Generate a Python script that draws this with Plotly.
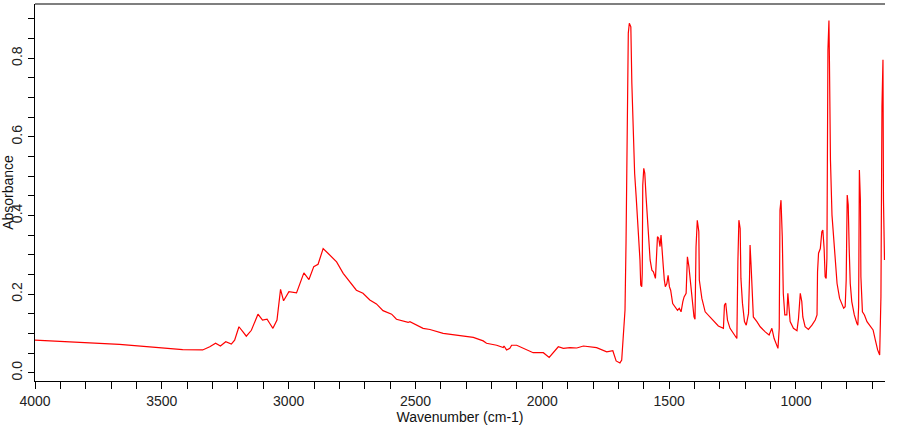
import plotly.graph_objects as go

wavenumber = [4000, 3824, 3667, 3548, 3418, 3339, 3311, 3288, 3269, 3248, 3226, 3213, 3196, 3180, 3167,
              3147, 3121, 3103, 3085, 3075, 3062, 3046, 3032, 3020, 2999, 2969, 2956, 2940, 2920, 2901,
              2884, 2864, 2845, 2811, 2785, 2733, 2707, 2680, 2654, 2628, 2594, 2575, 2529, 2522, 2470,
              2443, 2391, 2338, 2286, 2272, 2233, 2220, 2180, 2154, 2151, 2141, 2128, 2121, 2101, 2075,
              2036, 1996, 1973, 1937, 1917, 1891, 1864, 1838, 1786, 1746, 1722, 1709, 1694, 1687, 1681,
              1674, 1670, 1667, 1661, 1657, 1651, 1647, 1643, 1641, 1636, 1630, 1625, 1620, 1615, 1612,
              1608, 1606, 1604, 1600, 1596, 1591, 1586, 1580, 1575, 1568, 1562, 1554, 1552, 1546, 1541,
              1536, 1532, 1528, 1523, 1519, 1515, 1509, 1504, 1499, 1494, 1486, 1477, 1467, 1460, 1453,
              1446, 1441, 1433, 1428, 1422, 1417, 1411, 1402, 1398, 1394, 1389, 1383, 1381, 1371, 1358,
              1338, 1319, 1306, 1286, 1282, 1277, 1270, 1260, 1247, 1233, 1229, 1225, 1220, 1217, 1211,
              1203, 1196, 1187, 1183, 1181, 1177, 1173, 1168, 1154, 1141, 1121, 1106, 1095, 1086, 1071,
              1066, 1063, 1059, 1054, 1050, 1044, 1036, 1032, 1028, 1023, 1010, 996, 990, 983, 977,
              973, 964, 951, 937, 924, 917, 915, 911, 904, 898, 894, 889, 885, 881, 878,
              874, 870, 868, 864, 858, 852, 845, 838, 828, 819, 812, 806, 802, 798, 794,
              790, 786, 780, 770, 760, 756, 753, 750, 746, 744, 738, 730, 720, 707, 696,
              687, 678, 670, 665, 661, 657, 655, 651]

absorbance = [0.083, 0.078, 0.072, 0.066, 0.059, 0.058, 0.066, 0.075, 0.068, 0.079, 0.073, 0.083, 0.117, 0.104, 0.093,
              0.108, 0.149, 0.134, 0.136, 0.126, 0.113, 0.134, 0.212, 0.183, 0.206, 0.203, 0.227, 0.254, 0.237, 0.270,
              0.276, 0.316, 0.304, 0.282, 0.253, 0.210, 0.202, 0.185, 0.175, 0.158, 0.149, 0.136, 0.128, 0.130, 0.113,
              0.110, 0.100, 0.096, 0.091, 0.090, 0.081, 0.075, 0.070, 0.064, 0.068, 0.058, 0.062, 0.070, 0.070, 0.062,
              0.051, 0.051, 0.039, 0.066, 0.062, 0.064, 0.063, 0.068, 0.064, 0.053, 0.056, 0.030, 0.025, 0.032, 0.091,
              0.159, 0.329, 0.520, 0.864, 0.889, 0.880, 0.736, 0.634, 0.579, 0.507, 0.448, 0.397, 0.346, 0.287, 0.223,
              0.219, 0.253, 0.477, 0.520, 0.507, 0.448, 0.393, 0.338, 0.287, 0.261, 0.257, 0.240, 0.278, 0.346, 0.342,
              0.321, 0.350, 0.304, 0.270, 0.236, 0.219, 0.227, 0.248, 0.219, 0.210, 0.176, 0.168, 0.159, 0.164, 0.155,
              0.181, 0.193, 0.202, 0.295, 0.270, 0.236, 0.185, 0.142, 0.136, 0.320, 0.388, 0.359, 0.236, 0.189, 0.155,
              0.142, 0.130, 0.119, 0.113, 0.172, 0.177, 0.134, 0.113, 0.102, 0.087, 0.282, 0.388, 0.367, 0.240, 0.177,
              0.130, 0.121, 0.151, 0.244, 0.325, 0.274, 0.193, 0.142, 0.130, 0.117, 0.104, 0.096, 0.113, 0.087, 0.062,
              0.113, 0.414, 0.439, 0.346, 0.202, 0.147, 0.147, 0.202, 0.168, 0.130, 0.113, 0.107, 0.138, 0.202, 0.181,
              0.142, 0.117, 0.110, 0.121, 0.134, 0.147, 0.257, 0.304, 0.316, 0.359, 0.363, 0.316, 0.244, 0.240, 0.291,
              0.821, 0.896, 0.791, 0.541, 0.401, 0.350, 0.270, 0.227, 0.189, 0.172, 0.164, 0.168, 0.236, 0.452, 0.427,
              0.312, 0.227, 0.181, 0.147, 0.126, 0.121, 0.168, 0.516, 0.439, 0.244, 0.155, 0.147, 0.130, 0.117, 0.109,
              0.083, 0.058, 0.045, 0.193, 0.677, 0.796, 0.439, 0.287]

fig = go.Figure()
fig.add_trace(go.Scatter(x=wavenumber, y=absorbance, mode="lines",
                         line=dict(color="#ff0000", width=1.2), hoverinfo="skip"))

font_family = "Arial, Liberation Sans, sans-serif"
fig.update_layout(
    width=900, height=425,
    margin=dict(l=35, r=15, t=4, b=44),
    paper_bgcolor="white", plot_bgcolor="white",
    showlegend=False,
    font=dict(family=font_family, size=14, color="#222"),
    shapes=[dict(type="line", xref="paper", yref="paper", x0=0, x1=1, y0=1, y1=1,
                 line=dict(color="#555", width=1.5))],
)
fig.update_xaxes(
    range=[4000, 649], showgrid=False, zeroline=False,
    showline=True, linecolor="black", linewidth=1,
    ticks="outside", ticklen=7, tickcolor="black", dtick=500, tick0=0,
    minor=dict(ticks="outside", ticklen=7, tickcolor="black", dtick=100),
    tickfont=dict(size=14, color="#222"),
    title=dict(text="Wavenumber (cm-1)", font=dict(size=14, color="#111"), standoff=0),
    automargin=False,
)
fig.update_yaxes(
    range=[-0.021, 0.938], showgrid=False, zeroline=False,
    showline=True, linecolor="black", linewidth=1,
    ticks="outside", ticklen=6, tickcolor="black", dtick=0.2, tick0=0, tickformat=".1f",
    minor=dict(ticks="outside", ticklen=6, tickcolor="black", dtick=0.05),
    tickangle=-90, tickfont=dict(size=14, color="#222"),
    title=dict(text="Absorbance", font=dict(size=14, color="#111"), standoff=0),
    automargin=False,
)
fig.write_html("out.html", config={"displayModeBar": False},
               post_script="document.body.style.margin='0';document.body.style.overflow='hidden';")
